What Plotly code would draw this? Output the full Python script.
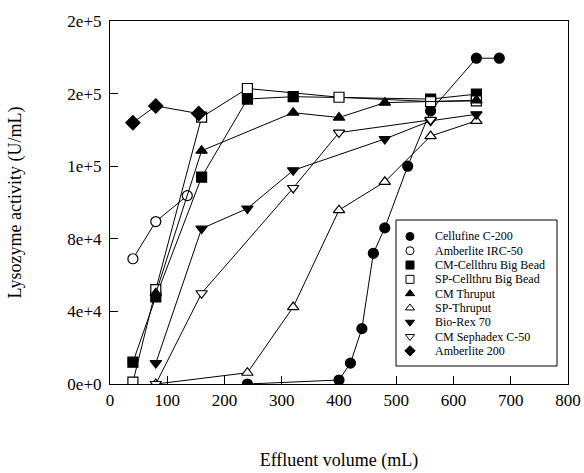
import plotly.graph_objects as go

# ---- data ----
names = ["Cellufine C-200", "Amberlite IRC-50", "CM-Cellthru Big Bead", "SP-Cellthru Big Bead",
         "CM Thruput", "SP-Thruput", "Bio-Rex 70", "CM Sephadex C-50", "Amberlite 200"]

cellufine_x = [240, 400, 420, 440, 460, 480, 520, 560, 640, 680]
cellufine_y = [0, 2200, 11500, 30500, 72000, 86000, 120000, 150500, 179500, 179500]

irc50_x = [40, 80, 135]
irc50_y = [69000, 89500, 103800]

cm_cellthru_x = [40, 80, 160, 240, 320, 560, 640]
cm_cellthru_y = [12000, 48000, 114000, 157000, 158300, 157000, 159700]

sp_cellthru_x = [40, 80, 160, 240, 400, 560, 640]
sp_cellthru_y = [1000, 52000, 147000, 162800, 158000, 155600, 156000]

cm_thruput_x = [80, 160, 320, 400, 480, 640]
cm_thruput_y = [50000, 128500, 149500, 146800, 155000, 156300]

sp_thruput_x = [80, 240, 320, 400, 480, 560, 640]
sp_thruput_y = [0, 6200, 42400, 95800, 111400, 136600, 145000]

biorex_x = [80, 160, 240, 320, 480, 560, 640]
biorex_y = [11500, 85600, 96700, 117700, 135000, 145000, 148600]

sephadex_x = [80, 160, 320, 400, 560]
sephadex_y = [0, 50000, 108000, 138500, 145500]

amb200_x = [40, 80, 155]
amb200_y = [144000, 153200, 149000]

symbols = ["circle", "circle", "square", "square", "triangle-up", "triangle-up",
           "triangle-down", "triangle-down", "diamond"]
filled = [True, False, True, False, True, False, True, False, True]

xs = [cellufine_x, irc50_x, cm_cellthru_x, sp_cellthru_x, cm_thruput_x, sp_thruput_x,
      biorex_x, sephadex_x, amb200_x]
ys = [cellufine_y, irc50_y, cm_cellthru_y, sp_cellthru_y, cm_thruput_y, sp_thruput_y,
      biorex_y, sephadex_y, amb200_y]

y_tickvals = [0, 40000, 80000, 120000, 160000, 200000]
y_ticktext = ["0e+0", "4e+4", "8e+4", "1e+5", "2e+5", "2e+5"]
x_tickvals = [0, 100, 200, 300, 400, 500, 600, 700, 800]

FONT = "Liberation Serif, Times New Roman, serif"

fig = go.Figure()
for name, x, y, sym, fil in zip(names, xs, ys, symbols, filled):
    fig.add_trace(go.Scatter(
        x=x, y=y, mode="lines+markers", name=name, showlegend=False,
        line=dict(color="black", width=1),
        marker=dict(symbol=sym, size=10 if sym != "diamond" else 11,
                    color="black" if fil else "white",
                    line=dict(color="black", width=1.2)),
    ))

# ---- custom legend (overlay axes in 0..1 units of the plot area) ----
box_x0, box_x1, box_y0, box_y1 = 0.6245, 0.976, 0.0496, 0.4518
row_top, row_step = 0.4065, 0.0394
mk_x, txt_x = 0.655, 0.705
leg_y = [row_top - i * row_step for i in range(len(names))]
fig.add_trace(go.Scatter(
    x=[mk_x] * len(names), y=leg_y, mode="markers", xaxis="x2", yaxis="y2",
    showlegend=False, hoverinfo="skip",
    marker=dict(symbol=symbols, size=8,
                color=["black" if f else "white" for f in filled],
                line=dict(color="black", width=1)),
))
fig.add_shape(type="rect", xref="x2", yref="y2", x0=box_x0, x1=box_x1, y0=box_y0, y1=box_y1,
              line=dict(color="black", width=1), fillcolor="white", layer="below")
for name, yy in zip(names, leg_y):
    fig.add_annotation(x=txt_x, y=yy, xref="x2", yref="y2", text=name, showarrow=False,
                       xanchor="left", yanchor="middle",
                       font=dict(family=FONT, size=12, color="black"))

axis_common = dict(showgrid=False, zeroline=False, showline=True, linecolor="black",
                   linewidth=1.2, mirror=True, ticks="inside", ticklen=8, tickcolor="black",
                   automargin=False, ticklabeloverflow="allow",
                   tickfont=dict(family=FONT, size=17, color="black"))

fig.update_layout(
    width=584, height=473,
    margin=dict(l=110, r=16, t=21, b=89),
    paper_bgcolor="white", plot_bgcolor="white",
    xaxis=dict(range=[0, 800], tickvals=x_tickvals,
               title=dict(text="Effluent volume (mL)", font=dict(family=FONT, size=18, color="black"),
                          standoff=44),
               **axis_common),
    yaxis=dict(range=[0, 200000], tickvals=y_tickvals, ticktext=y_ticktext,
               ticklabelstandoff=4,
               title=dict(text="Lysozyme activity (U/mL)", font=dict(family=FONT, size=18, color="black"),
                          standoff=41),
               **axis_common),
    xaxis2=dict(overlaying="x", range=[0, 1], visible=False, fixedrange=True),
    yaxis2=dict(overlaying="y", range=[0, 1], visible=False, fixedrange=True),
)

# remove the default 8px page margin so the 584x473 figure fills the window exactly
fig.write_html("out.html", config={"displayModeBar": False},
               post_script="document.body.style.margin='0';document.body.style.overflow='hidden';")
